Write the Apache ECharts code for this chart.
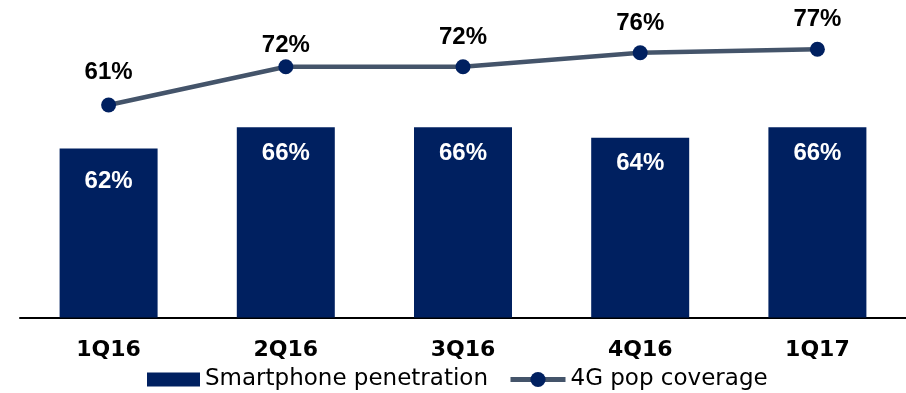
<!DOCTYPE html>
<html>
<head>
<meta charset="utf-8">
<script src="https://cdn.jsdelivr.net/npm/echarts@6/dist/echarts.min.js"></script>
<style>
  html, body { margin: 0; padding: 0; background: #fff; }
  #chart { width: 906px; height: 393px; }
</style>
</head>
<body>
<div id="chart"></div>
<script>
// Quarterly figures (percent)
const quarters = ['1Q16', '2Q16', '3Q16', '4Q16', '1Q17'];
const smartphonePenetration = [62, 66, 66, 64, 66];
const popCoverage4G = [61, 72, 72, 76, 77];
const seriesNames = ['Smartphone penetration', '4G pop coverage'];

const NAVY = '#002060';
const SLATE = '#44546A';
const pctFont = 'Arial';

const legendText = { fontFamily: 'DejaVu Sans', fontSize: 23, color: '#000' };

const chart = echarts.init(document.getElementById('chart'), null, { renderer: 'canvas' });

chart.setOption({
  animation: false,
  backgroundColor: '#ffffff',
  grid: { left: 20, right: 0, top: 11, bottom: 75.5, containLabel: false },
  legend: [
    {
      left: 147,
      top: 368,
      padding: 0,
      itemWidth: 53,
      itemHeight: 14,
      itemGap: 0,
      textStyle: legendText,
      data: [{ name: seriesNames[0], icon: 'rect' }]
    },
    {
      left: 508,
      top: 368,
      padding: 0,
      itemWidth: 55,
      itemHeight: 19,
      itemGap: 0,
      textStyle: legendText,
      data: [{ name: seriesNames[1], lineStyle: { width: 5, color: SLATE } }]
    }
  ],
  xAxis: {
    type: 'category',
    data: quarters,
    axisLine: { show: true, lineStyle: { color: '#000', width: 2 } },
    axisTick: { show: false },
    axisLabel: {
      margin: 22,
      fontFamily: 'DejaVu Sans',
      fontWeight: 'bold',
      fontSize: 22,
      color: '#000'
    }
  },
  yAxis: [
    { type: 'value', min: 30, max: 88, show: false, splitLine: { show: false } },
    { type: 'value', min: 0, max: 88, show: false, splitLine: { show: false } }
  ],
  series: [
    {
      name: seriesNames[0],
      type: 'bar',
      yAxisIndex: 0,
      barWidth: 98,
      itemStyle: { color: NAVY },
      label: {
        show: true,
        position: 'insideTop',
        distance: 14,
        formatter: p => p.value + '%',
        fontFamily: pctFont,
        fontWeight: 'bold',
        fontSize: 24,
        color: '#fff'
      },
      data: smartphonePenetration.map((v, i) => (
        i === 0 ? { value: v, label: { distance: 21 } } : v
      ))
    },
    {
      name: seriesNames[1],
      type: 'line',
      yAxisIndex: 1,
      symbol: 'circle',
      symbolSize: 15,
      lineStyle: { color: SLATE, width: 4.5 },
      itemStyle: { color: NAVY },
      label: {
        show: true,
        position: 'top',
        distance: 10,
        formatter: p => p.value + '%',
        fontFamily: pctFont,
        fontWeight: 'bold',
        fontSize: 24,
        color: '#000'
      },
      data: popCoverage4G.map((v, i) => (
        i === 0 ? { value: v, label: { distance: 13 } }
        : i === 1 ? { value: v, label: { distance: 2 } } : v
      ))
    }
  ]
});
</script>
</body>
</html>
